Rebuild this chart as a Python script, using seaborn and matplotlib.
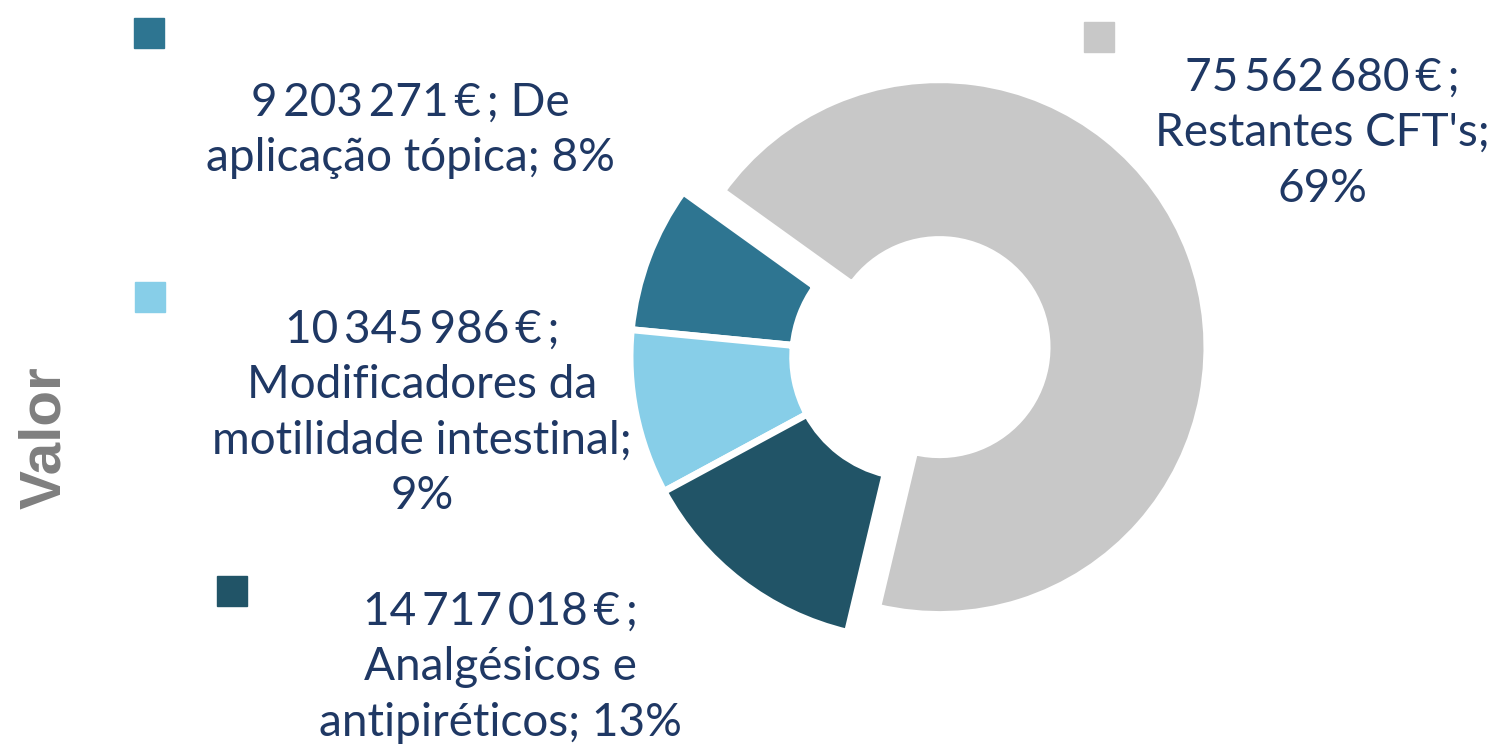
import seaborn as sns
import matplotlib.pyplot as plt
import numpy as np

# Data
categories = ["De aplicação tópica", "Modificadores da\nmotilidade intestinal",
              "Analgésicos e\nantipiréticos", "Restantes CFT's"]
values = [9203271, 10345986, 14717018, 75562680]
pct_labels = ["8%", "9%", "13%", "69%"]
colors = ["#2E7591", "#87CEE8", "#215467", "#C8C8C8"]

sns.set_theme(style="white")
plt.rcParams['font.family'] = ['Lato', 'DejaVu Sans']

W, H = 1503, 750
fig = plt.figure(figsize=(W / 100, H / 100), dpi=100)
ax = fig.add_axes([0, 0, 1, 1])

# donut, one unit = R px
R = 283
cx, cy = 913, 357
wedges, _ = ax.pie(values, colors=colors, startangle=144.3, counterclock=True,
                   explode=[0, 0, 0, 0.1],
                   wedgeprops=dict(width=0.575, edgecolor="white", linewidth=5))
# the exploded slice is drawn a bit smaller
wedges[3].set_radius(0.945)
wedges[3].set_width(0.565)

ax.set_xlim(-cx / R, (W - cx) / R)
ax.set_ylim(-(H - cy) / R, cy / R)
ax.set_aspect("equal")
ax.axis("off")

THIN = "\u2009"


def fmt_eur(v):
    return f"{v:,}".replace(",", THIN) + THIN + "€" + THIN + ";"


text_color = "#1F3864"
label_text = [
    fmt_eur(values[0]) + " De\naplicação tópica; " + pct_labels[0],
    fmt_eur(values[1]) + "\nModificadores da\nmotilidade intestinal;\n" + pct_labels[1],
    fmt_eur(values[2]) + "\nAnalgésicos e\nantipiréticos; " + pct_labels[2],
    fmt_eur(values[3]) + "\nRestantes CFT's;\n" + pct_labels[3],
]
label_pos = [(410, 130), (422, 413), (500, 667), (1322, 133)]
key_pos = [(149, 33), (150, 297), (232, 591), (1099, 37)]

for txt, (lx, ly), (kx, ky), c in zip(label_text, label_pos, key_pos, colors):
    fig.text(lx / W, 1 - ly / H, txt, ha="center", va="center",
             multialignment="center", fontsize=33, color=text_color,
             linespacing=1.4)
    ax.plot([kx / W], [1 - ky / H], marker="s", markersize=21, color=c,
            transform=fig.transFigure, clip_on=False)

fig.text(45 / W, 1 - 438 / H, "Valor", rotation=90, ha="center", va="center",
         fontsize=42, fontweight="bold", color="#7F7F7F",
         family=["Liberation Sans", "DejaVu Sans"])

plt.savefig("out.png", dpi=100)
